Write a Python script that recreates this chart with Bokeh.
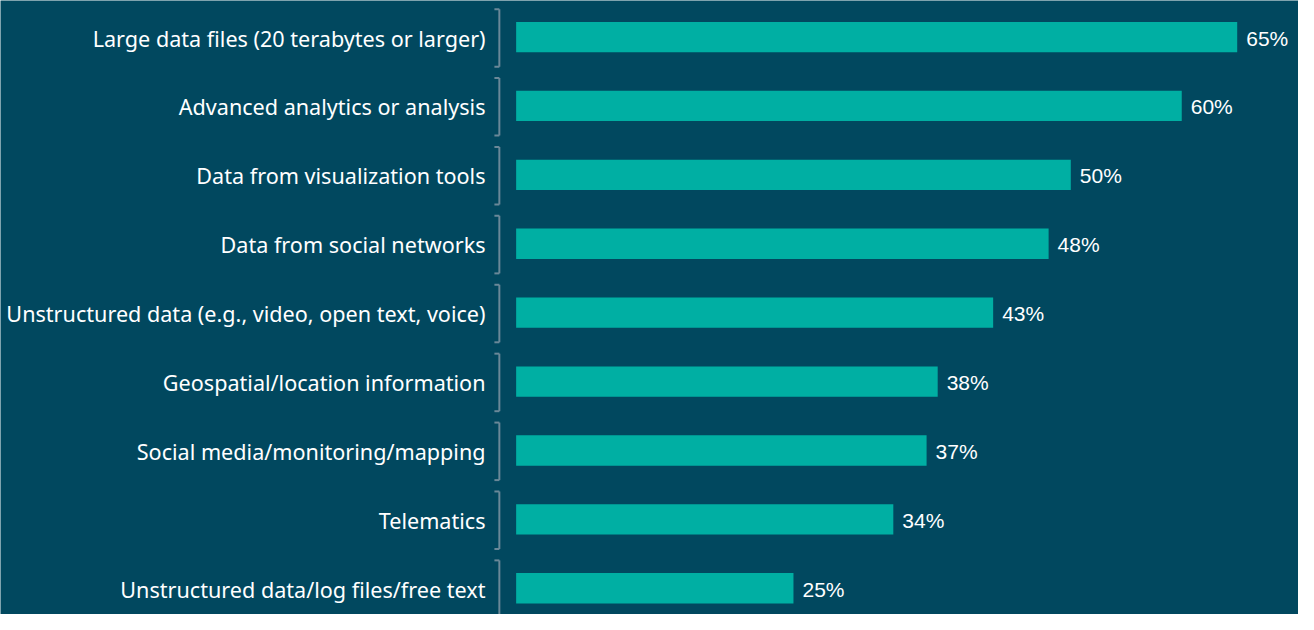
from bokeh.plotting import figure
from bokeh.models import Range1d, ColumnDataSource
from bokeh.core.properties import value
from bokeh.embed import file_html
from bokeh.resources import INLINE

categories = [
    "Large data files (20 terabytes or larger)",
    "Advanced analytics or analysis",
    "Data from visualization tools",
    "Data from social networks",
    "Unstructured data (e.g., video, open text, voice)",
    "Geospatial/location information",
    "Social media/monitoring/mapping",
    "Telematics",
    "Unstructured data/log files/free text",
]
values = [65, 60, 50, 48, 43, 38, 37, 34, 25]

BG = "#01485F"
BAR = "#00AFA3"
BRACKET = "#6A8898"

W, H = 1298, 614
sx = W / 1314
sy = H / 630
px_per_pct = 11.23 * sx
x0_px = 522 * sx
row_px = 70.7 * sy
row0_px = 37.5 * sy

xs = -x0_px / px_per_pct
xe = (W - x0_px) / px_per_pct
ytop = -row0_px / row_px
ybot = (H - row0_px) / row_px

p = figure(width=W, height=H, output_backend="svg", toolbar_location=None,
           x_range=Range1d(xs, xe), y_range=Range1d(ybot, ytop),
           min_border=0, background_fill_color=BG, border_fill_color=BG,
           outline_line_color=None)
p.axis.visible = False
p.grid.visible = False

ypos = list(range(len(categories)))
src = ColumnDataSource(dict(
    y=ypos, v=values, cat=categories,
    lab=[f"{v}%" for v in values],
    top=[y - 0.405 for y in ypos], bot=[y + 0.43 for y in ypos],
))

p.hbar(y="y", left=0, right="v", height=0.44, source=src,
       fill_color=BAR, line_color=None)

p.text(x="v", y="y", text="lab", source=src, x_offset=9, y_offset=1,
       text_font=value("Liberation Sans"), text_font_size="21px",
       text_color="white", text_baseline="middle", text_align="left")

def px2x(px):
    return (px * sx - x0_px) / px_per_pct

p.text(x=px2x(491), y="y", text="cat", source=src, y_offset=1,
       text_font=value("Noto Sans"), text_font_size="21.6px",
       text_color="white", text_baseline="middle", text_align="right")

bx = px2x(505)
bl = px2x(500)
p.segment(x0=bx, x1=bx, y0="top", y1="bot", source=src, line_color=BRACKET, line_width=2)
p.segment(x0=bl, x1=bx, y0="top", y1="top", source=src, line_color=BRACKET, line_width=2)
p.segment(x0=bl, x1=bx, y0="bot", y1="bot", source=src, line_color=BRACKET, line_width=2)

open("out.html", "w").write(file_html(p, INLINE))
